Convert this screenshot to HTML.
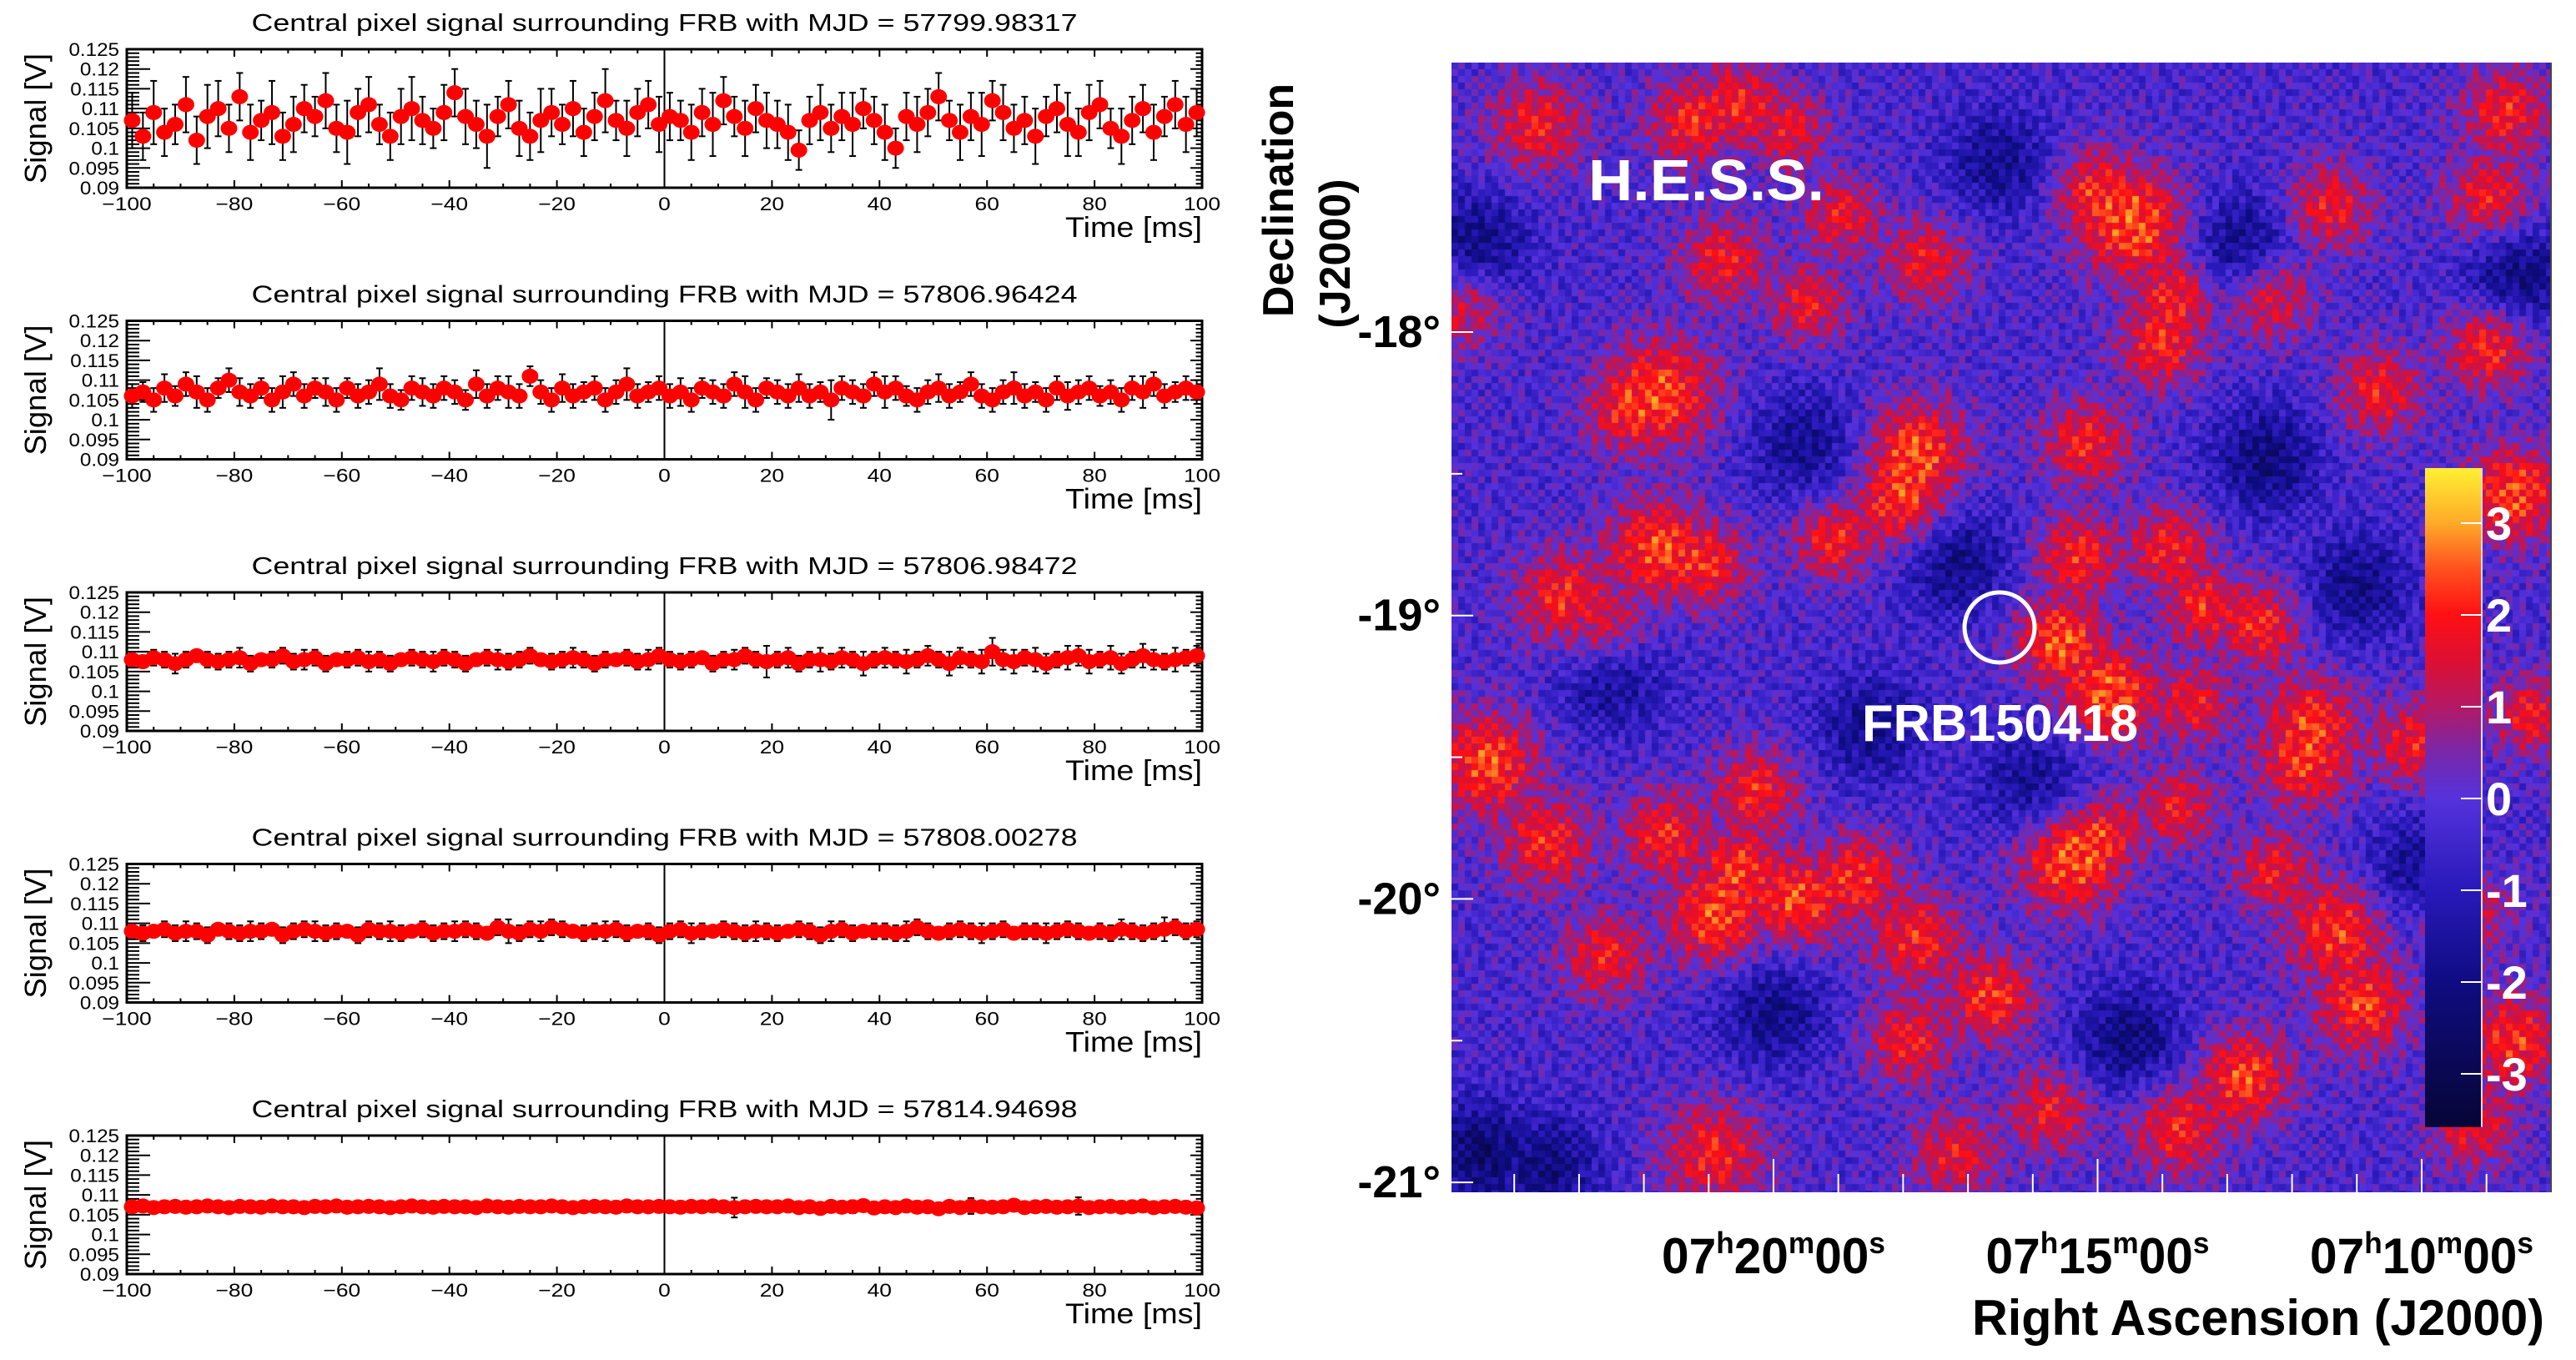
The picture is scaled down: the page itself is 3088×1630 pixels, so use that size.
<!DOCTYPE html>
<html><head><meta charset="utf-8">
<style>
html,body{margin:0;padding:0;background:#fff;}
#root{position:relative;width:3088px;height:1630px;overflow:hidden;background:#fff;font-family:"Liberation Sans",sans-serif;}
#heat{position:absolute;left:1740px;top:75px;}
svg{position:absolute;left:0;top:0;}
</style></head>
<body>
<div id="root">
<canvas id="heat" width="1318" height="1354"></canvas>
<svg id="svg" width="3088" height="1630" xmlns="http://www.w3.org/2000/svg"></svg>
</div>
<script>
// ---------- time-series data (signal in mV) ----------
const panelTitles=["57799.98317","57806.96424","57806.98472","57808.00278","57814.94698"];
const xTicks=[-100,-80,-60,-40,-20,0,20,40,60,80,100];
const yTicks=[0.09,0.095,0.1,0.105,0.11,0.115,0.12,0.125];
const yTickLabels=["0.09","0.095","0.1","0.105","0.11","0.115","0.12","0.125"];
const sig1=[107,103,109,104,106,111,102,108,110,105,113,104,107,109,103,106,110,108,112,105,104,109,111,106,103,108,110,107,105,109,114,108,106,103,108,111,105,103,107,109,106,110,104,108,112,107,105,109,111,106,108,107,104,109,106,112,108,105,110,107,106,104,99.5,107,109,105,108,106,110,107,104,100,108,106,109,113,107,104,108,106,112,109,105,107,103,108,110,106,104,109,111,105,103,107,110,104,108,111,106,109];
const err1=[7,6,8,6,5,7,6,8,7,6,6,7,5,8,6,7,6,5,7,6,8,6,7,5,6,7,8,6,5,7,6,7,6,8,5,6,7,6,8,6,5,7,6,6,8,5,7,6,6,7,6,5,7,6,8,6,5,7,6,7,6,7,5,6,7,6,6,8,5,6,7,5,6,7,6,6,5,7,6,8,5,7,6,6,7,5,6,8,6,7,6,5,7,6,6,7,5,6,7,6];
const sig2=[106,107,105,108,106,109,107,105,108,110,107,106,108,105,107,109,106,108,107,105,108,106,107,109,106,105,108,107,106,108,107,105,109,106,108,107,106,111,107,105,108,106,107,108,105,107,109,106,107,108,106,107,105,108,107,106,109,107,105,108,107,106,108,106,107,105,108,107,106,109,107,108,106,105,107,108,106,107,109,106,105,107,108,106,107,105,108,106,107,108,106,107,105,108,107,109,106,107,108,107];
const err2=[3,2.5,3,3.5,2.5,3,4,3,2.5,3,3.5,3,2.5,3,4,3,3,2.5,3.5,3,2.5,3,3,4,3,2.5,3,3.5,3,3,3,2.5,3.5,3,3,4,3,2.5,3,3,3.5,3,2.5,3,3,3,4,3,2.5,3,3,3.5,3,2.5,3,3,3,4,3,2.5,3,3,3.5,3,2.5,5,3,3,3,3,4,3,2.5,3,3,3.5,3,2.5,3,3,3,3,4,3,2.5,3,3,3.5,3,3,2.5,3,3,3,4,3,3,2.5,3,3];
const sig3=[108,107.5,108.5,108,107,108,109,108,107.5,108,108.5,107,108,108,109,107.5,108,108.5,107,108,108,108.5,107.5,108,107,108,108.5,108,107.5,108.5,108,107,108,108.5,108,107.5,108,109,108,107.5,108,108.5,108,107,108,108,108.5,107.5,108,109,108,107.5,108,108.5,107,108,108,109,108,107.5,108,108.5,107,108,108,107.5,108.5,108,107,108,108.5,108,107.5,108,109,108,107,108.5,108,107.5,110,108,107.5,108.5,108,107,108,108.5,109,107.5,108,108.5,107,108,109,108,107.5,108,108.5,109];
const err3=[2,1.5,2,2,2.5,2,1.5,2,2,2,2.5,2,1.5,2,2,2,2.5,2,2,1.5,2,2,2.5,2,2,1.5,2,2,2.5,2,2,2,1.5,2,2.5,2,2,2,1.5,2,2,2.5,2,2,2,1.5,2,2,2.5,2,2,2,2,1.5,2,2,2.5,2,2,4,2,2.5,2,2,3,2,2.5,2,3,2,2.5,2,3,2,2.5,2,3,2.5,2,3,3.5,2.5,3,2,3,2.5,2,3,2.5,3,2,3,2.5,2,3,2.5,2,3,2,2.5];
const sig4=[108,107.5,108,108.5,107.5,108,108,107,108.5,108,107.5,108,108,108.5,107,108,108.5,108,107.5,108,108,107,108.5,108,108,107.5,108,108.5,107.5,108,108,108.5,108,107.5,109,108,107.5,108.5,108,109,108.5,108,107.5,108,108,108.5,107.5,108,108,107,108,108.5,107.5,108,108,108.5,108,107.5,108,108,107.5,108,108.5,108,107,108,108.5,107.5,108,108,108,107.5,108,109,108,107.5,108,108.5,108,107.5,108,108.5,107.5,108,108,107.5,108,108.5,108,107.5,108,107.5,108.5,108,107.5,108,108.5,109,108,108.5];
const err4=[2,2,1.5,2,2,2.5,2,2,1.5,2,2,2.5,2,1.5,2,2,2,2.5,2,2,1.5,2,2,2,2.5,2,1.5,2,2,2,2.5,2,2,1.5,2,3,2,2,2.5,2,2,1.5,2,2,2.5,2,2,1.5,2,2,2,2,2.5,2,1.5,2,2,2,2.5,2,2,1.5,2,2,2,2.5,2,2,1.5,2,2,2,2.5,2,2,1.5,2,2,2,2.5,2,2,1.5,2,2,2.5,2,2,2,1.5,2,2,2.5,2,2,2,3,2,2,2];
const sig5=[107,107.2,106.8,107,107.1,106.9,107,107.2,107,106.8,107.1,107,106.9,107.2,107,107,106.8,107.1,107,107.2,106.9,107,107.1,107,106.8,107,107.2,107,106.9,107.1,107,107,106.8,107.2,107,106.9,107.1,107,107,107.2,107,106.8,107,107.1,107,106.9,107.2,107,107,107.1,107,106.9,107.1,107,107.2,107,106.8,107,107.1,107,107,107.2,106.8,107,106.6,107.1,106.9,107,107.3,106.7,107,106.8,107.2,106.9,107,106.5,107.1,106.8,107.2,107,106.9,107,107.4,106.8,107,107.1,106.9,107,107.2,106.8,107,107.1,106.9,107,107.2,106.8,107,107.1,106.9,106.7];
const err5=[0.7,0.6,0.7,0.8,0.6,0.7,0.7,0.6,0.8,0.7,0.6,0.7,0.7,0.8,0.6,0.7,0.6,0.7,0.8,0.7,0.7,0.6,0.7,0.7,0.8,0.6,0.7,0.7,0.6,0.8,0.7,0.7,0.6,0.7,0.8,0.7,0.6,0.7,0.7,0.8,0.6,0.7,0.7,0.6,0.8,0.7,0.7,0.6,0.7,0.8,0.9,1.2,1.0,1.4,1.1,1.3,2.5,1.2,1.0,1.4,1.3,1.1,1.5,1.2,1.4,1.0,1.3,1.6,1.2,1.1,1.4,1.2,1.0,1.5,1.3,1.1,1.4,1.2,2.0,1.3,1.1,1.4,1.2,1.0,1.3,1.5,1.1,1.2,2.2,1.3,1.0,1.2,1.4,1.1,1.3,1.2,1.0,1.4,1.2,1.1];
const signals=[sig1,sig2,sig3,sig4,sig5];
const errors=[err1,err2,err3,err4,err5];

// ---------- sky-map data ----------
const hotRA=[23.64,21.3,20.52,19.74,20.78,18.96,14.42,15.06,11.43,8.96,8.7,24.8,19.48,17.66,13.77,12.34,21.69,22.21,14.03,8.96,10.65,17.79,18.0,15.19,8.57,21.82,21.04,19.09,15.32,13.9,23.25,22.6,15.58,12.47,13.38,14.81,13.51,11.69,11.82,24.42,20.26,23.51,21.69,15.45,13.77,14.94,20.91,20.52,19.61,18.7,17.79,11.3,10.91,16.62,22.6,12.73,17.92,8.57,20.91,13.77,15.71,9.35,9.2,17.2,8.3,10.1,12.3];
const hotDec=[-17.27,-17.26,-17.19,-17.29,-17.75,-17.59,-17.62,-17.5,-17.56,-17.53,-17.22,-17.9,-17.9,-17.75,-17.87,-17.87,-18.21,-18.27,-18.05,-18.05,-18.21,-18.42,-18.6,-18.39,-18.57,-18.76,-18.82,-18.73,-18.79,-18.76,-18.94,-19.06,-19.09,-19.03,-18.97,-19.28,-19.31,-19.37,-19.52,-19.52,-19.62,-19.8,-19.77,-19.86,-19.68,-19.77,-20.07,-19.89,-20.01,-19.92,-20.14,-20.11,-20.38,-20.35,-20.2,-20.63,-20.5,-20.5,-20.9,-20.81,-20.75,-20.04,-20.8,-20.9,-19.35,-19.45,-19.9];
const hotSig=[2.1,2.1,2.0,1.8,2.1,2.0,2.7,2.1,2.1,2.2,2.2,2.0,2.0,2.0,2.1,2.1,2.4,2.1,2.1,2.4,2.1,2.5,2.4,2.2,2.7,2.4,2.1,2.2,2.2,2.1,2.2,2.2,2.7,2.2,2.1,2.8,2.0,2.2,2.2,2.6,2.2,2.2,2.2,2.8,2.0,2.1,2.6,2.2,2.4,2.2,2.2,2.4,2.4,2.4,2.1,2.5,2.1,2.4,2.2,2.2,2.0,2.1,2.0,2.0,2.1,2.1,2.0];
const hotWidth=[.12,.11,.11,.10,.11,.10,.14,.11,.11,.11,.11,.11,.10,.11,.11,.11,.14,.11,.11,.11,.11,.13,.13,.11,.12,.13,.11,.10,.11,.11,.12,.12,.11,.11,.10,.12,.10,.12,.12,.13,.11,.12,.11,.13,.10,.10,.12,.10,.12,.11,.12,.13,.12,.11,.11,.12,.11,.12,.13,.12,.11,.11,.11,.11,.10,.11,.10];
const coldRA=[22.5,17.2,24.6,12.8,12.4,8.5,14.5,20.0,24.5,23.5,19.5,16.5,11.0,16.0,18.5,10.0];
const coldDec=[-19.2,-18.8,-17.7,-17.7,-18.45,-17.8,-20.5,-20.4,-20.9,-20.95,-18.4,-17.4,-18.9,-19.6,-19.4,-19.9];
const coldSig=[-2.0,-1.9,-1.9,-1.8,-1.9,-1.9,-1.9,-1.7,-2.2,-1.9,-1.6,-1.6,-1.7,-1.6,-1.6,-1.7];
const baseSig=-0.25;
const noiseTile=["3816052947163528","7250813649027154","1649372058416932","5083926174530867","9427150836294015","2761483905172648","6038297514860391","4195603782941576","8572946130658213","0364718295307482","5917830462185930","3240675918742165","7685129043596807","1953486720314659","6428091357862043","0871564239150786"];
const decTicks=[-18,-19,-20,-21];
const raLabels=[20,15,10];
const cbTicks=[3,2,1,0,-1,-2,-3];
const cmapVal=[-3.6,-3,-2,-1,0,0.5,1,1.5,2,2.5,3,3.6];
const cmapRGB=[[5,5,55],[10,8,80],[15,12,130],[40,25,185],[85,50,220],[120,40,170],[180,25,100],[220,15,50],[255,15,20],[255,80,30],[255,170,40],[255,240,50]];

const NS="http://www.w3.org/2000/svg";
const svg=document.getElementById('svg');
function el(tag,attrs,parent,text){const e=document.createElementNS(NS,tag);for(const k in attrs)e.setAttribute(k,attrs[k]);if(text!==undefined)e.textContent=text;(parent||svg).appendChild(e);return e;}

// ---------- time-series panels ----------
const FL=152,FR=1441,FH=166;
function xs(t){return FL+(t+100)/200*(FR-FL);}
for(let p=0;p<5;p++){
  const top=59+p*325.5, bot=top+FH;
  const ys=v=>bot-(v-0.09)/0.035*FH;
  const g=el('g',{});
  
  
  const ti=el('text',{x:(FL+FR)/2,y:top-22,'text-anchor':'middle','font-size':29,textLength:990,lengthAdjust:'spacingAndGlyphs',fill:'#000'},g,'Central pixel signal surrounding FRB with MJD = '+panelTitles[p]);
  
  
  el('rect',{x:FL,y:top,width:FR-FL,height:FH,fill:'#fff',stroke:'#000','stroke-width':3},g);
  for(let k=0;k<=35;k++){const v=0.09+k*0.001;const y=ys(v);const L=(k%5==0)?28:15;
    el('line',{x1:FL,x2:FL+L,y1:y,y2:y,stroke:'#000','stroke-width':2},g);
    el('line',{x1:FR,x2:FR-L/2,y1:y,y2:y,stroke:'#000','stroke-width':2},g);}
  yTicks.forEach((v,i)=>{const t=el('text',{x:0,y:0,transform:`translate(143,${ys(v)+8}) scale(1.1,1)`,'text-anchor':'end','font-size':22,fill:'#000'},g,yTickLabels[i]);
    });
  for(let t=-100;t<=100;t+=5){const x=xs(t);const L=(t%20==0)?9:5;
    el('line',{x1:x,x2:x,y1:bot,y2:bot-L,stroke:'#000','stroke-width':2},g);
    el('line',{x1:x,x2:x,y1:top,y2:top+L,stroke:'#000','stroke-width':2},g);}
  xTicks.forEach(t=>{const tx=el('text',{x:0,y:0,transform:`translate(${xs(t)},${bot+27}) scale(1.2,1)`,'text-anchor':'middle','font-size':22,fill:'#000'},g,(t<0?'\u2212':'')+Math.abs(t));
    });
  const xt=el('text',{x:1277,y:bot+59,'font-size':34,fill:'#000',textLength:164,lengthAdjust:'spacingAndGlyphs'},g,'Time [ms]');
  
  const yt=el('text',{x:0,y:0,transform:`translate(55,${top+FH/2}) rotate(-90)`,'text-anchor':'middle','font-size':36,fill:'#000',textLength:156,lengthAdjust:'spacingAndGlyphs'},g,'Signal [V]');
  
  el('line',{x1:xs(0),x2:xs(0),y1:top,y2:bot,stroke:'#000','stroke-width':2},g);
  const s=signals[p],e=errors[p];
  const eg=el('g',{stroke:'#000','stroke-width':2},g);
  
  const pg=el('g',{fill:'#ff0000'},g);
  
  for(let i=0;i<s.length;i++){
    const t=-99+2*i, x=xs(t), v=s[i]/1000, d=e[i]/1000;
    const y1=ys(Math.min(0.125,v+d)), y2=ys(Math.max(0.09,v-d));
    el('line',{x1:x,x2:x,y1:y1,y2:y2},eg);
    el('line',{x1:x-4,x2:x+4,y1:y1,y2:y1},eg);
    el('line',{x1:x-4,x2:x+4,y1:y2,y2:y2},eg);
  }
  for(let i=0;i<s.length;i++){
    const c=el('ellipse',{cx:xs(-99+2*i),cy:ys(s[i]/1000),rx:10,ry:9},pg);
    
    
  }
}

// ---------- sky map ----------
const MX0=1740,MX1=3058,MY0=75,MY1=1429;
function raX(ra){return 2126+(20-ra)*77.7;}
function decY(d){return 398+(-18-d)*339.7;}
function cmap(v){
  if(v<=cmapVal[0])return cmapRGB[0];
  for(let i=1;i<cmapVal.length;i++){if(v<=cmapVal[i]){const f=(v-cmapVal[i-1])/(cmapVal[i]-cmapVal[i-1]);const a=cmapRGB[i-1],b=cmapRGB[i];return [a[0]+(b[0]-a[0])*f,a[1]+(b[1]-a[1])*f,a[2]+(b[2]-a[2])*f];}}
  return cmapRGB[cmapRGB.length-1];
}
(function(){
  const cv=document.getElementById('heat');const ctx=cv.getContext('2d');
  const W=cv.width,H=cv.height,C=8;
  const hx=hotRA.map(r=>raX(r)-MX0),hy=hotDec.map(d=>decY(d)-MY0),hs=hotWidth.map(w=>w*339.7);
  const cx=coldRA.map(r=>raX(r)-MX0),cy=coldDec.map(d=>decY(d)-MY0),cs=45;
  let row=0;
  for(let y=0;y<H;y+=C,row++){let col=0;for(let x=0;x<W;x+=C,col++){
    const px=x+C/2,py=y+C/2;
    let hmax=0,hsum=0,cmin=0;
    for(let i=0;i<hx.length;i++){const dx=px-hx[i],dy=py-hy[i];const s=hs[i];const q=(dx*dx+dy*dy)/(2*s*s);if(q<9){const c=hotSig[i]*Math.exp(-q);hsum+=c;if(c>hmax)hmax=c;}}
    for(let i=0;i<cx.length;i++){const dx=px-cx[i],dy=py-cy[i];const q=(dx*dx+dy*dy)/(2*cs*cs);if(q<9){const c=coldSig[i]*Math.exp(-q);if(c<cmin)cmin=c;}}
    let v=baseSig+hmax+0.3*(hsum-hmax)+cmin;
    if(v>2.2)v=2.2+(v-2.2)*0.35;
    const nd=+noiseTile[row%16][(col+(row>>4)*5)%16];
    v+=(nd-4.5)*0.16;
    const c=cmap(Math.min(3.5,v));ctx.fillStyle=`rgb(${c[0]|0},${c[1]|0},${c[2]|0})`;ctx.fillRect(x,y,C,C);
  }}
})();
const mg=el('g',{});

el('line',{x1:MX1,x2:MX1,y1:MY0,y2:MY1,stroke:'#444','stroke-width':2},mg);
for(let d=-18;d>=-21;d-=0.5){const y=decY(d);const L=(d%1==0)?26:13;el('line',{x1:MX0,x2:MX0+L,y1:y,y2:y,stroke:'#fff','stroke-width':2},mg);}
decTicks.forEach(d=>{const t=el('text',{x:1727,y:decY(d)+18,'text-anchor':'end','font-size':54,'font-weight':'bold',fill:'#000'},mg,d+'\u00b0');
  });
for(let r=24;r>=9;r--){const x=raX(r);const L=(r%5==0)?40:22;el('line',{x1:x,x2:x,y1:MY1,y2:MY1-L,stroke:'#fff','stroke-width':2},mg);}
raLabels.forEach(r=>{const t=el('text',{x:raX(r),y:1526,'text-anchor':'middle','font-size':60,'font-weight':'bold',fill:'#000',textLength:268,lengthAdjust:'spacingAndGlyphs'},mg);
  
  el('tspan',{},t,'07');el('tspan',{'font-size':36,dy:-24},t,'h');el('tspan',{dy:24},t,String(r));
  el('tspan',{'font-size':36,dy:-24},t,'m');el('tspan',{dy:24},t,'00');el('tspan',{'font-size':36,dy:-24},t,'s');});
const rat=el('text',{x:3050,y:1600,'text-anchor':'end','font-size':60,'font-weight':'bold',fill:'#000',textLength:686,lengthAdjust:'spacingAndGlyphs'},mg,'Right Ascension (J2000)');

const dt1=el('text',{x:0,y:0,transform:'translate(1550,240) rotate(-90)','text-anchor':'middle','font-size':52,'font-weight':'bold',fill:'#000'},mg,'Declination');

const dt2=el('text',{x:0,y:0,transform:'translate(1618,304) rotate(-90)','text-anchor':'middle','font-size':52,'font-weight':'bold',fill:'#000'},mg,'(J2000)');

const hs=el('text',{x:1904,y:240,'font-size':70,'font-weight':'bold',fill:'#fff',textLength:283,lengthAdjust:'spacingAndGlyphs'},mg,'H.E.S.S.');

const circ=el('circle',{cx:2397,cy:752,r:42,fill:'none',stroke:'#fff','stroke-width':5},mg);

const fl=el('text',{x:2232,y:888,'font-size':62,'font-weight':'bold',fill:'#fff',textLength:331,lengthAdjust:'spacingAndGlyphs'},mg,'FRB150418');

const defs=el('defs',{});const lg=el('linearGradient',{id:'cbg',x1:0,y1:1,x2:0,y2:0},defs);
const CB0=-3.58,CB1=3.6;
cmapVal.forEach((v,i)=>{const c=cmapRGB[i];el('stop',{offset:Math.max(0,Math.min(1,(v-CB0)/(CB1-CB0))),'stop-color':`rgb(${c[0]},${c[1]},${c[2]})`},lg);});
function cbY(v){return 957-v*110;}
const cb=el('rect',{x:2907,y:cbY(CB1),width:68,height:cbY(CB0)-cbY(CB1),fill:'url(#cbg)'},mg);

el('line',{x1:2975,x2:2975,y1:cbY(CB1),y2:cbY(CB0),stroke:'#ddd','stroke-width':2},mg);
cbTicks.forEach(v=>{el('line',{x1:2950,x2:2975,y1:cbY(v),y2:cbY(v),stroke:'#fff','stroke-width':2},mg);
  const t=el('text',{x:2980,y:cbY(v)+20,'font-size':56,'font-weight':'bold',fill:'#fff'},mg,String(v));
  });
</script>
</body></html>
